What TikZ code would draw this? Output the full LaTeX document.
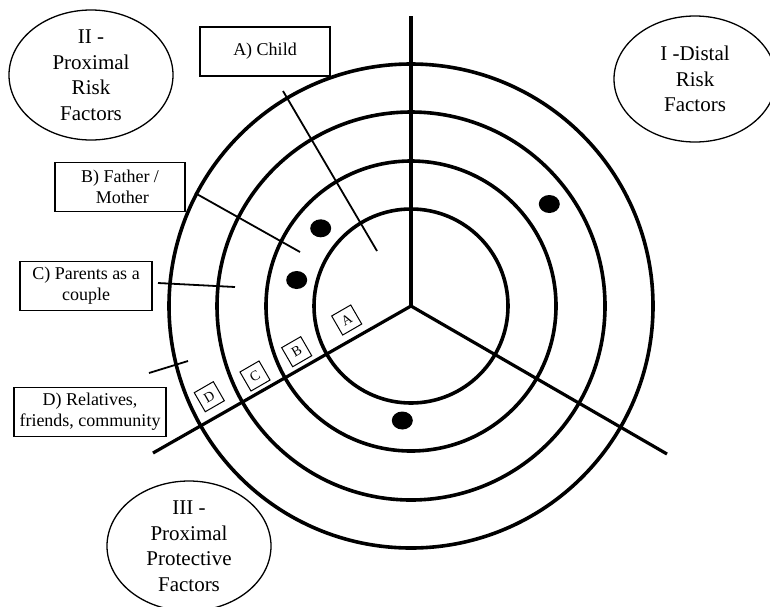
\documentclass[tikz,border=0pt]{standalone}
\usepackage{fontspec}
\setmainfont{Liberation Serif}
\usetikzlibrary{shapes.geometric}

\begin{document}
\begin{tikzpicture}[x=1pt, y=-1pt,
    ring/.style={line width=3.6pt},
    spoke/.style={line width=3.2pt},
    pointer/.style={line width=1.8pt},
    labelbox/.style={draw, line width=1.3pt, minimum height=49pt, inner sep=0pt, align=center, font=\fontsize{18}{21}\selectfont},
    factor/.style={align=center, inner sep=0pt, font=\fontsize{21}{25.5}\selectfont},
    zone/.style={draw, line width=1pt, minimum size=22pt, inner sep=0pt, rotate=30, font=\fontsize{14}{14}\selectfont},
    spot/.style={ellipse, fill=black, minimum width=21pt, minimum height=18pt, inner sep=0pt}]
            \clip (0,0) rectangle (770,606);

            \coordinate (hub) at (411, 306);
            \coordinate (north) at (411, 16);
            \coordinate (southwest) at (153, 453);
            \coordinate (southeast) at (667, 454);

            \draw[ring] (hub) circle [radius=97];
            \draw[ring] (hub) circle [radius=145];
            \draw[ring] (hub) circle [radius=194];
            \draw[ring] (hub) circle [radius=242];

            \draw[spoke] (hub) -- (north);
            \draw[spoke] (hub) -- (southwest);
            \draw[spoke] (hub) -- (southeast);

            \node[spot] (dot1) at (320.7, 228.3) {};
            \node[spot] (dot2) at (296.7, 280) {};
            \node[spot] (dot3) at (402.3, 420.5) {};
            \node[spot] (dot4) at (549.3, 204) {};

            \node[zone] (zA) at (346.7, 320) {A};
            \node[zone] (zB) at (296.7, 351.7) {B};
            \node[zone] (zC) at (255, 376) {C};
            \node[zone] (zD) at (209.3, 396.7) {D};

            \node[labelbox, minimum width=130pt] (child) at (265, 51.5) {A) Child};
            \node[labelbox, minimum width=130pt] (parent) at (120, 187) {B) Father /\\ \ Mother};
            \node[labelbox, minimum width=132pt] (couple) at (86, 286) {C) Parents as a\\couple};
            \node[labelbox, minimum width=152pt] (community) at (90, 412) {D) Relatives,\\friends, community};

            \coordinate (childA) at (283, 91);
            \coordinate (childB) at (377, 251);
            \coordinate (parentA) at (195, 193);
            \coordinate (parentB) at (300, 252);
            \coordinate (coupleA) at (158, 283);
            \coordinate (coupleB) at (235, 287);
            \coordinate (communityA) at (149, 373);
            \coordinate (communityB) at (188, 361);

            \draw[pointer] (childA) -- (childB);
            \draw[pointer] (parentA) -- (parentB);
            \draw[pointer] (coupleA) -- (coupleB);
            \draw[pointer] (communityA) -- (communityB);

            \node[factor] (distal) at (695, 79) {I -Distal\\Risk\\Factors};
            \node[factor] (proxrisk) at (91, 75) {II -\\Proximal\\Risk\\Factors};
            \node[factor] (proxprot) at (189, 546) {III -\\Proximal\\Protective\\Factors};

            \draw[line width=1.3pt] (distal.center) ellipse [x radius=81, y radius=63];
            \draw[line width=1.3pt] (proxrisk.center) ellipse [x radius=82, y radius=65];
            \draw[line width=1.3pt] (proxprot.center) ellipse [x radius=82, y radius=65];
        \end{tikzpicture}
\end{document}
